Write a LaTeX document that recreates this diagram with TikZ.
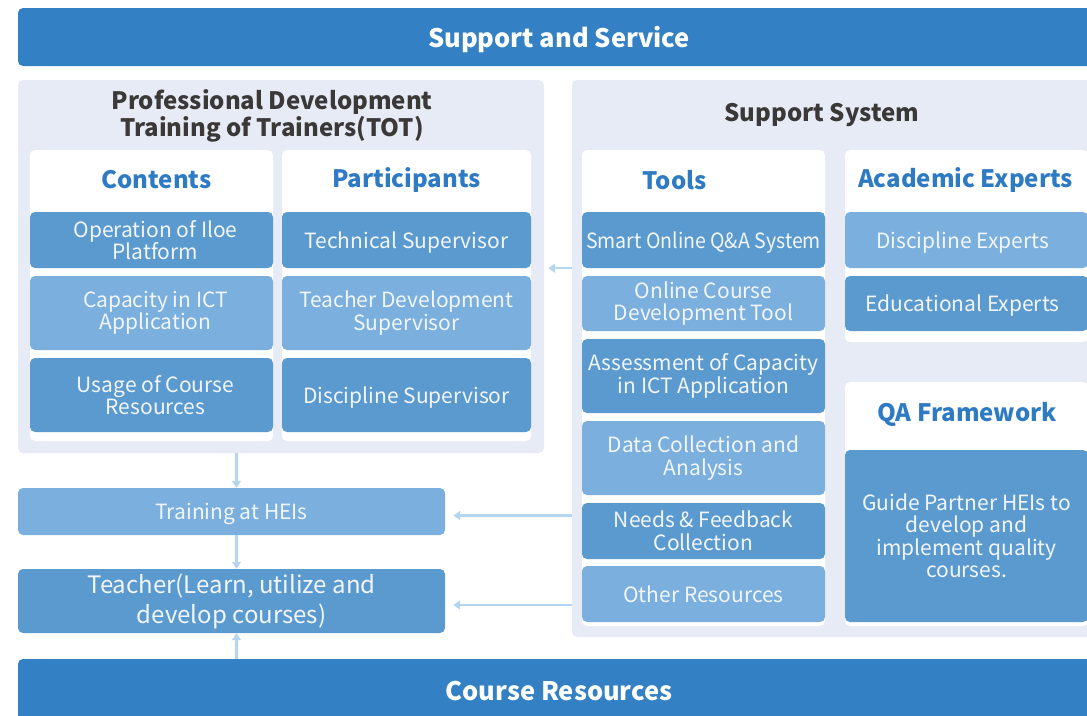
\documentclass[tikz,border=0pt]{standalone}
\usepackage{fontspec}
\setmainfont{Noto Sans CJK SC}
\usepackage{tikz}
\usetikzlibrary{arrows.meta}
\definecolor{barblue}{RGB}{51,128,196}
\definecolor{panelgray}{RGB}{230,235,245}
\definecolor{darkbox}{RGB}{91,154,207}
\definecolor{lightbox}{RGB}{122,175,222}
\definecolor{headblue}{RGB}{46,123,196}
\definecolor{titlegray}{RGB}{59,56,56}
\definecolor{arrowblue}{RGB}{181,214,240}
\definecolor{boxtext}{RGB}{242,246,251}
\tikzset{
    bar/.style = {fill=barblue, rounded corners=5pt, text=white, inner sep=0pt, text depth=0pt,
        font=\fontsize{25.5}{30}\selectfont\bfseries},
    panel/.style = {fill=panelgray, rounded corners=5pt, inner sep=0pt},
    column/.style = {fill=white, rounded corners=5pt, inner sep=0pt},
    dark/.style = {fill=darkbox, rounded corners=5pt, text=boxtext, align=center, inner sep=0pt,
        font=\fontsize{21}{22.5}\selectfont},
    light/.style = {dark, fill=lightbox},
    oneline/.style = {text depth=0pt},
    head/.style = {text=headblue, font=\fontsize{24}{27}\selectfont\bfseries},
    title/.style = {text=titlegray, align=center, font=\fontsize{24}{26.5}\selectfont\bfseries},
    flow/.style = {draw=arrowblue, line width=2.5pt, -{Triangle[width=9pt,length=7pt]}}
}

\begin{document}
\begin{tikzpicture}[x=1pt,y=-1pt]
\useasboundingbox (0,0) rectangle (1087,715);
\clip (0,0) rectangle (1087,715);
% bars
\node[bar, minimum width=1082, minimum height=58] (service) at (559,37) {Support and Service};
\node[bar, minimum width=1082, minimum height=70] (resources) at (559,694) {\raisebox{7pt}{Course Resources}};
% training of trainers
\node[panel, minimum width=526, minimum height=373] (tot) at (281,266.5) {};
\node[title] (tottitle) at (272,116) {Professional Development\\Training of Trainers(TOT)};
\node[column, minimum width=243, minimum height=291] (contents) at (151.5,295.5) {};
\node[column, minimum width=249, minimum height=291] (participants) at (406.5,295.5) {};
\node[head] (contentshead) at (156.5,180) {Contents};
\node[head] (participantshead) at (406.5,180) {Participants};
\node[dark, minimum width=243, minimum height=56] (op) at (151.5,240) {\hspace*{8pt}Operation of Iloe\\\hspace*{8pt}Platform};
\node[light, minimum width=243, minimum height=74] (cap) at (151.5,313) {\hspace*{8pt}Capacity in ICT\\\hspace*{8pt}Application};
\node[dark, minimum width=243, minimum height=74] (usage) at (151.5,395) {\hspace*{8pt}Usage of Course\\\hspace*{8pt}Resources};
\node[dark, oneline, minimum width=249, minimum height=56] (tech) at (406.5,240) {Technical Supervisor};
\node[light, minimum width=249, minimum height=74] (tdev) at (406.5,313) {Teacher Development\\Supervisor};
\node[dark, oneline, minimum width=249, minimum height=74] (disc) at (406.5,395) {Discipline Supervisor};
% support system
\node[panel, minimum width=528, minimum height=557] (support) at (836,358.5) {};
\node[title] (supporttitle) at (822,115) {Support System};
\node[column, minimum width=243, minimum height=476] (tools) at (703.5,388) {};
\node[column, minimum width=243, minimum height=192] (academic) at (966.5,246) {};
\node[column, minimum width=243, minimum height=244] (qa) at (966.5,504) {};
\node[head] (toolshead) at (674.5,180) {Tools};
\node[head] (academichead) at (965.5,180) {Academic Experts};
\node[head] (qahead) at (967,414) {QA Framework};
\node[dark, oneline, minimum width=243, minimum height=56] (smart) at (703.5,240) {\scalebox{0.93}[1]{Smart Online Q\&A System}};
\node[light, minimum width=243, minimum height=55] (online) at (703.5,303.5) {Online Course\\Development Tool};
\node[dark, minimum width=243, minimum height=74] (assess) at (703.5,376) {Assessment of Capacity\\in ICT Application};
\node[light, minimum width=243, minimum height=74] (data) at (703.5,458) {Data Collection and\\Analysis};
\node[dark, minimum width=243, minimum height=56] (needs) at (703.5,531) {Needs \& Feedback\\Collection};
\node[light, oneline, minimum width=243, minimum height=56] (other) at (703.5,594) {Other Resources};
\node[light, oneline, minimum width=243, minimum height=56] (discexp) at (966.5,240) {\hspace*{-8pt}Discipline Experts};
\node[dark, oneline, minimum width=243, minimum height=55] (eduexp) at (966.5,303.5) {\hspace*{-8pt}Educational Experts};
\node[dark, minimum width=243, minimum height=172] (guide) at (966.5,536) {Guide Partner HEIs to\\develop and\\implement quality\\courses.};
% lower flow
\node[light, oneline, minimum width=427, minimum height=47] (training) at (231.5,511.5) {Training at HEIs};
\node[dark, minimum width=427, minimum height=64, font=\fontsize{24}{30}\selectfont] (teacher) at (231.5,601) {Teacher(Learn, utilize and\\develop courses)};
% arrows
\draw[flow] ([xshift=5pt]tot.south -| training.north) -- ([xshift=5pt]training.north);
\draw[flow] ([xshift=5pt]training.south) -- ([xshift=5pt]teacher.north);
\draw[flow] ([xshift=5pt]teacher.south |- resources.north) -- ([xshift=5pt]teacher.south);
\draw[flow, shorten >=4pt] (support.west |- smart.south) -- (tot.east |- smart.south);
\draw[flow, shorten >=8pt] ([yshift=-4pt]support.west |- training) -- ([yshift=-4pt]training.east);
\draw[flow, shorten >=8pt] ([yshift=-4pt]support.west |- teacher) -- ([yshift=-4pt]teacher.east);
\end{tikzpicture}
\end{document}
